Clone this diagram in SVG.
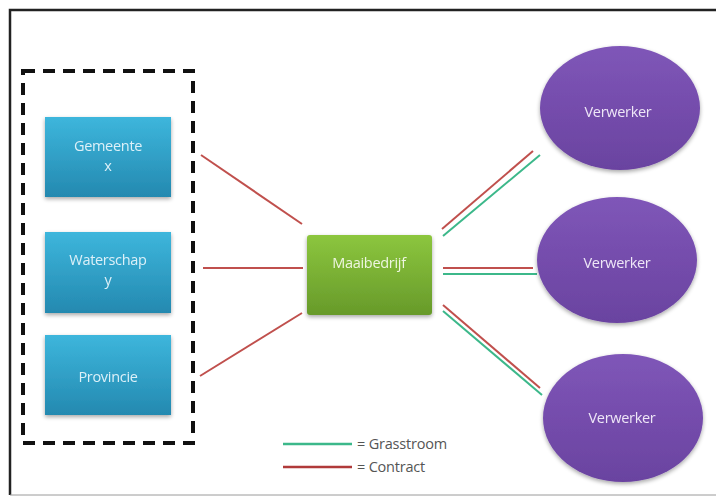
<svg xmlns="http://www.w3.org/2000/svg" width="716" height="497" viewBox="0 0 716 497">
  <defs>
    <linearGradient id="gBlue" x1="0" y1="0" x2="0" y2="1">
      <stop offset="0" stop-color="#3db6dc"/>
      <stop offset="1" stop-color="#2489b0"/>
    </linearGradient>
    <linearGradient id="gGreen" x1="0" y1="0" x2="0" y2="1">
      <stop offset="0" stop-color="#8cc63e"/>
      <stop offset="1" stop-color="#679a2a"/>
    </linearGradient>
    <linearGradient id="gPurple" x1="0" y1="0" x2="0" y2="1">
      <stop offset="0" stop-color="#7f56b8"/>
      <stop offset="1" stop-color="#6a43a0"/>
    </linearGradient>
    <filter id="soft" x="-10%" y="-10%" width="120%" height="125%">
      <feGaussianBlur in="SourceAlpha" stdDeviation="2"/>
      <feOffset dy="2"/>
      <feComponentTransfer><feFuncA type="linear" slope="0.35"/></feComponentTransfer>
      <feMerge><feMergeNode/><feMergeNode in="SourceGraphic"/></feMerge>
    </filter>
  </defs>
  <style>
    .lbl { font-family: "Open Sans", "Liberation Sans", sans-serif; font-size: 14.5px; fill: #dcf0f8; text-anchor: middle; letter-spacing: -0.3px; }
    .leg { font-family: "Open Sans", "Liberation Sans", sans-serif; font-size: 14.5px; fill: #555555; letter-spacing: -0.2px; }
    .red { stroke: #c0504d; stroke-width: 2; fill: none; }
    .grn { stroke: #3cb88a; stroke-width: 2; fill: none; }
  </style>

  <rect x="0" y="0" width="716" height="497" fill="#ffffff"/>
  <!-- outer frame -->
  <path d="M10 495 V10 H716" fill="none" stroke="#222222" stroke-width="2.5"/>
  <line x1="10" y1="495" x2="716" y2="495" stroke="#9a9a9a" stroke-width="1"/>

  <!-- dashed grouping of the authorities -->
  <rect id="opdrachtgevers" x="23" y="71" width="170" height="372" fill="none" stroke="#111111" stroke-width="4" stroke-dasharray="12 8"/>

  <g id="connectors">
    <line class="red" x1="201" y1="155" x2="302" y2="224"/>
    <line class="red" x1="203" y1="268" x2="303" y2="268"/>
    <line class="red" x1="200" y1="376" x2="302" y2="313"/>

    <line class="red" x1="442" y1="229" x2="533" y2="151"/>
    <line class="grn" x1="443" y1="236" x2="540" y2="155"/>
    <line class="red" x1="443" y1="268" x2="533" y2="268"/>
    <line class="grn" x1="443" y1="274" x2="537" y2="274"/>
    <line class="red" x1="443" y1="305" x2="540" y2="388"/>
    <line class="grn" x1="443" y1="311" x2="542" y2="395"/>
  </g>

  <g id="gemeente" filter="url(#soft)">
    <rect x="45" y="117" width="126" height="80" fill="url(#gBlue)"/>
    <text class="lbl" x="108" y="151">Gemeente</text>
    <text class="lbl" x="108" y="171">x</text>
  </g>
  <g id="waterschap" filter="url(#soft)">
    <rect x="45" y="232" width="126" height="81" fill="url(#gBlue)"/>
    <text class="lbl" x="108" y="265">Waterschap</text>
    <text class="lbl" x="108" y="285">y</text>
  </g>
  <g id="provincie" filter="url(#soft)">
    <rect x="45" y="335" width="126" height="80" fill="url(#gBlue)"/>
    <text class="lbl" x="108" y="382">Provincie</text>
  </g>

  <g id="maaibedrijf" filter="url(#soft)">
    <rect x="307" y="235" width="125" height="80" rx="3" fill="url(#gGreen)"/>
    <text class="lbl" x="369" y="268" style="fill:#eef6e0">Maaibedrijf</text>
  </g>

  <g id="verwerker1" filter="url(#soft)">
    <ellipse cx="620" cy="108" rx="80" ry="62" fill="url(#gPurple)"/>
    <text class="lbl" x="618" y="117" style="fill:#eee6f7">Verwerker</text>
  </g>
  <g id="verwerker2" filter="url(#soft)">
    <ellipse cx="617" cy="260" rx="80" ry="63" fill="url(#gPurple)"/>
    <text class="lbl" x="617" y="268" style="fill:#eee6f7">Verwerker</text>
  </g>
  <g id="verwerker3" filter="url(#soft)">
    <ellipse cx="623" cy="418" rx="80" ry="64" fill="url(#gPurple)"/>
    <text class="lbl" x="622" y="423" style="fill:#eee6f7">Verwerker</text>
  </g>

  <g id="legenda">
    <line x1="283" y1="444" x2="352" y2="444" stroke="#3cb88a" stroke-width="2.5"/>
    <line x1="283" y1="467" x2="352" y2="467" stroke="#b03a3a" stroke-width="2.5"/>
    <text class="leg" x="357" y="449">= Grasstroom</text>
    <text class="leg" x="357" y="472">= Contract</text>
  </g>
</svg>
